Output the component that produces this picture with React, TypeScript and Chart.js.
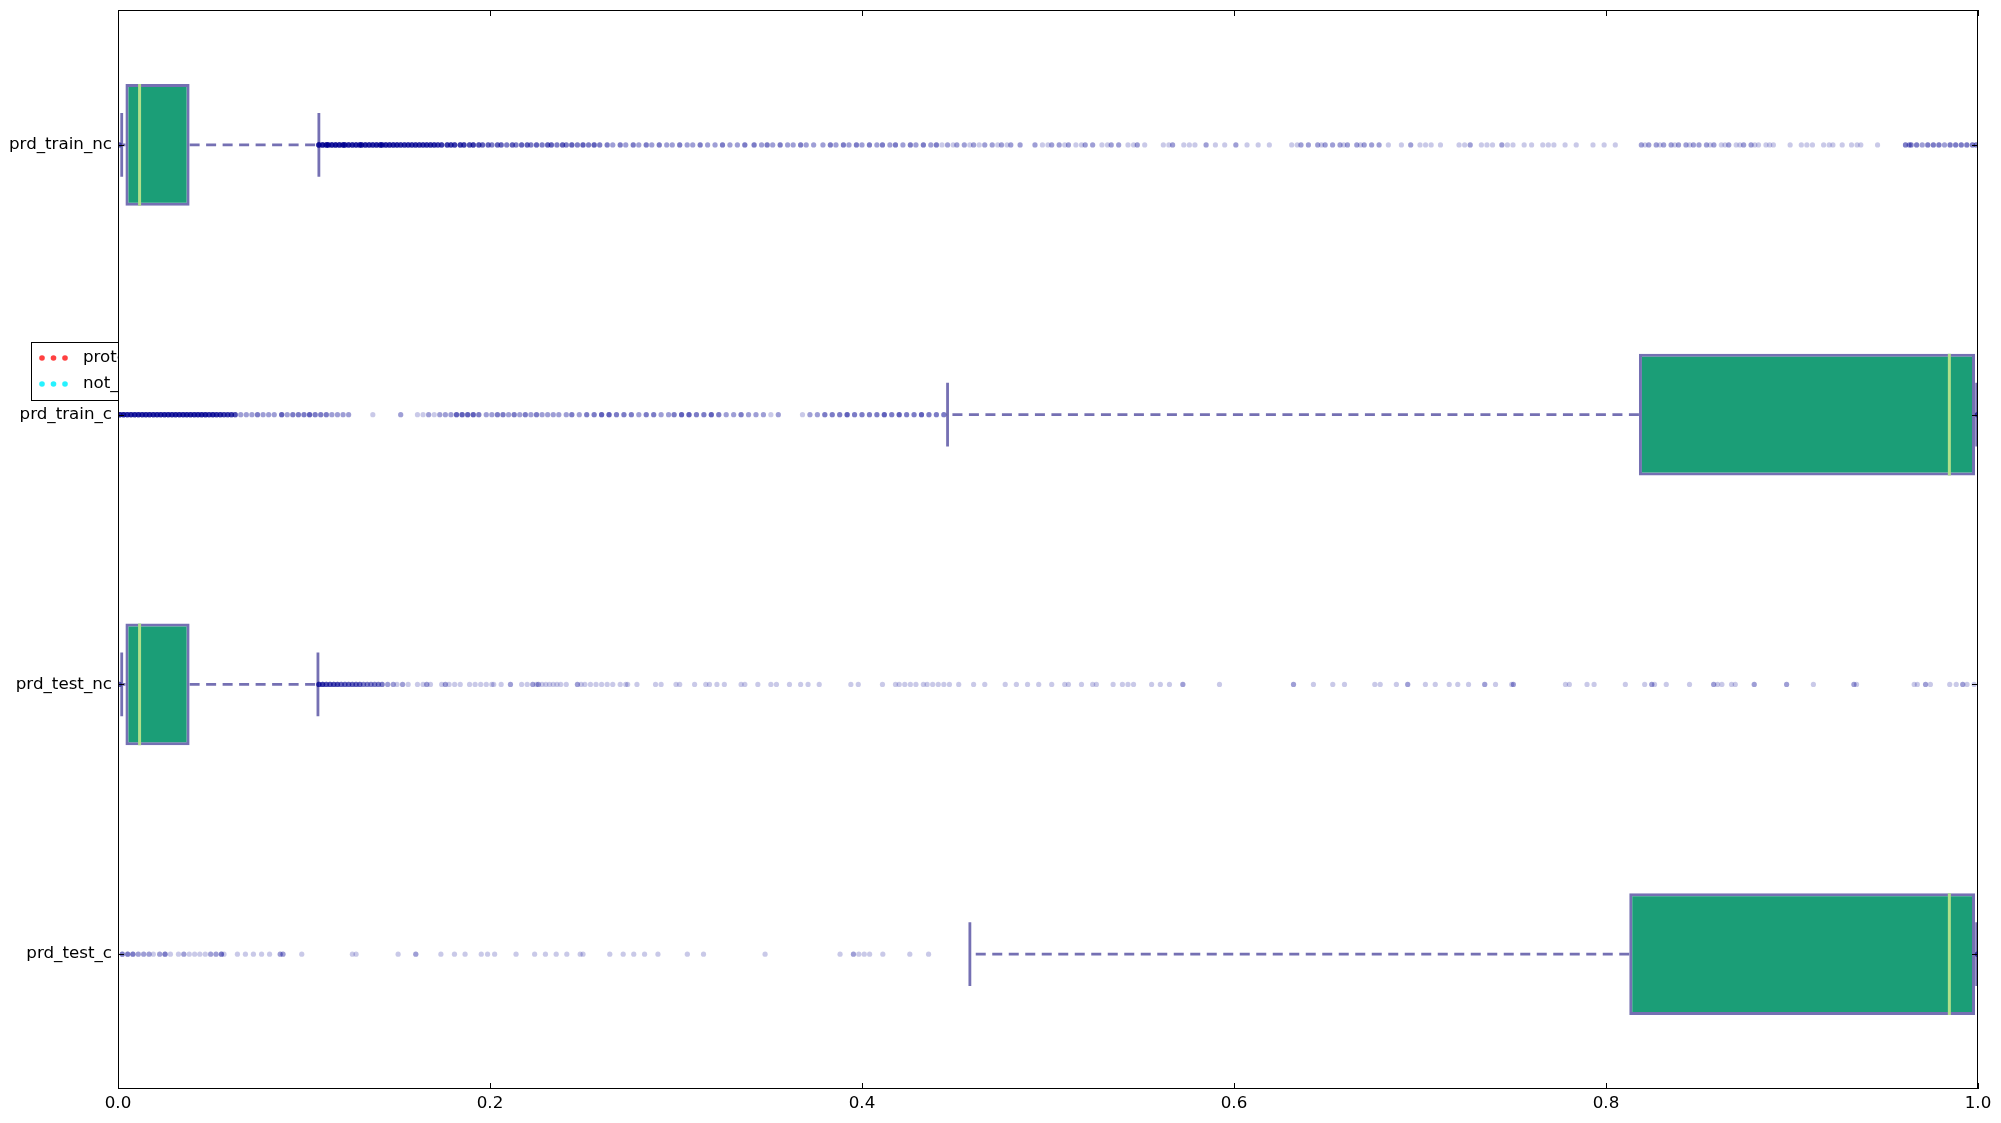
import React, { useEffect, useRef } from 'react';
import { Chart, registerables } from 'chart.js';

Chart.register(...registerables);

// ---------- data ----------
const CATEGORIES = ['prd_train_nc', 'prd_train_c', 'prd_test_nc', 'prd_test_c'];
const WHISKER_LOW = [0.002, 0.446, 0.002, 0.458];
const Q1 = [0.004, 0.8177, 0.004, 0.8125];
const MEDIAN = [0.0116, 0.9846, 0.0116, 0.9846];
const Q3 = [0.0385, 0.9984, 0.0385, 0.9984];
const WHISKER_HIGH = [0.108, 0.9993, 0.1075, 0.9993];
const X_TICKS = [0, 0.2, 0.4, 0.6, 0.8, 1.0];
const LEGEND_LABELS = ['protected', 'not_protected'];

// outliers as [value, how many points at that value]
type Tally = [number, number];
const TRAIN_NC_OUTLIERS: Tally[] = [
  [0.0006, 4],
  [0.108, 9], [0.110, 9], [0.112, 9], [0.113, 9], [0.115, 9], [0.117, 9], [0.119, 9], [0.121, 9], [0.122, 8], [0.124, 8],
  [0.126, 8], [0.128, 8], [0.130, 8], [0.131, 8], [0.133, 8], [0.135, 8], [0.137, 8], [0.139, 8], [0.141, 8], [0.142, 8],
  [0.144, 8], [0.146, 8], [0.148, 8], [0.150, 8], [0.152, 7], [0.154, 7], [0.156, 7], [0.158, 7], [0.160, 7], [0.162, 7],
  [0.164, 7], [0.166, 7], [0.168, 7], [0.170, 7], [0.172, 6], [0.174, 6], [0.177, 6], [0.179, 6], [0.181, 6], [0.184, 6],
  [0.186, 6], [0.189, 5], [0.191, 6], [0.194, 5],
  [0.196, 4], [0.199, 4], [0.201, 3], [0.204, 4], [0.206, 4], [0.209, 3], [0.212, 4], [0.214, 3], [0.217, 4], [0.220, 4],
  [0.222, 3], [0.225, 4], [0.228, 3], [0.231, 4], [0.233, 4], [0.236, 3], [0.239, 4], [0.241, 3], [0.244, 4], [0.247, 3],
  [0.250, 4], [0.253, 3], [0.256, 4], [0.259, 3],
  [0.263, 3], [0.266, 2], [0.270, 3], [0.273, 2], [0.277, 3], [0.280, 2], [0.284, 3], [0.287, 2], [0.291, 3], [0.295, 2],
  [0.298, 2], [0.302, 3], [0.306, 2], [0.309, 2], [0.313, 3], [0.317, 2], [0.321, 2], [0.325, 3], [0.329, 2], [0.333, 2],
  [0.337, 3],
  [0.342, 3], [0.346, 2], [0.349, 3], [0.352, 2], [0.356, 3], [0.360, 2], [0.363, 2], [0.367, 3], [0.370, 2], [0.374, 2],
  [0.379, 2], [0.383, 3], [0.386, 2], [0.390, 3], [0.393, 2], [0.397, 3], [0.400, 2], [0.404, 3], [0.408, 2], [0.411, 3],
  [0.415, 2], [0.418, 3], [0.422, 2], [0.426, 3], [0.429, 2], [0.433, 3], [0.437, 2], [0.440, 3],
  [0.443, 1], [0.446, 2], [0.449, 1], [0.451, 2], [0.455, 2], [0.458, 1], [0.460, 2], [0.463, 1], [0.466, 2], [0.470, 2],
  [0.473, 1], [0.475, 2], [0.478, 1], [0.480, 2], [0.485, 2],
  [0.493, 2], [0.497, 1], [0.500, 1], [0.502, 2], [0.506, 2], [0.509, 1], [0.511, 2], [0.515, 1], [0.518, 1], [0.520, 2],
  [0.524, 2], [0.529, 1], [0.532, 1], [0.534, 2], [0.538, 2], [0.543, 1], [0.546, 1], [0.548, 2], [0.552, 1],
  [0.562, 1], [0.565, 1], [0.567, 2], [0.573, 1], [0.576, 1], [0.579, 1], [0.585, 2], [0.590, 1], [0.595, 1], [0.601, 2],
  [0.607, 1], [0.613, 1], [0.619, 1],
  [0.631, 1], [0.634, 1], [0.636, 2], [0.640, 2], [0.645, 2], [0.647, 1], [0.649, 2], [0.653, 2], [0.657, 2], [0.659, 1],
  [0.661, 2], [0.666, 2], [0.668, 1], [0.670, 2], [0.674, 2], [0.678, 2], [0.683, 1],
  [0.690, 1], [0.695, 2], [0.700, 1], [0.703, 1], [0.706, 1], [0.711, 1],
  [0.721, 1], [0.724, 1], [0.727, 2], [0.733, 1], [0.736, 1], [0.739, 1], [0.744, 2], [0.747, 1], [0.750, 1], [0.756, 1],
  [0.760, 1],
  [0.766, 1], [0.769, 1], [0.772, 1], [0.778, 1], [0.784, 1],
  [0.793, 1], [0.799, 1], [0.805, 1],
  [0.819, 2], [0.821, 1], [0.823, 2], [0.827, 2], [0.829, 1], [0.831, 2], [0.835, 2], [0.837, 1], [0.839, 2], [0.843, 2],
  [0.845, 1], [0.847, 2], [0.850, 2],
  [0.854, 2], [0.856, 1], [0.858, 2], [0.862, 1], [0.864, 1], [0.866, 2], [0.870, 1], [0.872, 1], [0.874, 2], [0.878, 2],
  [0.880, 1], [0.882, 1], [0.886, 1], [0.888, 1], [0.890, 1],
  [0.899, 1], [0.905, 1], [0.908, 1], [0.911, 1], [0.917, 1], [0.920, 1], [0.922, 1], [0.927, 1], [0.932, 1], [0.935, 1],
  [0.937, 1], [0.946, 1],
  [0.961, 3], [0.963, 2], [0.964, 3], [0.967, 3], [0.970, 2], [0.973, 3], [0.976, 3], [0.979, 3], [0.982, 2], [0.985, 3],
  [0.988, 3], [0.991, 3], [0.994, 3], [0.997, 3], [0.999, 3],
];

const TRAIN_C_OUTLIERS: Tally[] = [
  [0.001, 9], [0.003, 9], [0.005, 8], [0.007, 8], [0.009, 8], [0.011, 8], [0.013, 8], [0.015, 8], [0.017, 8], [0.019, 8],
  [0.021, 8], [0.023, 8], [0.025, 8], [0.027, 8], [0.029, 8], [0.031, 8], [0.033, 8], [0.035, 8], [0.037, 8], [0.039, 8],
  [0.041, 8], [0.043, 8], [0.045, 8], [0.047, 8], [0.049, 7], [0.051, 8], [0.053, 7], [0.055, 7], [0.057, 6], [0.059, 6],
  [0.061, 6], [0.063, 5],
  [0.066, 2], [0.069, 2], [0.072, 2], [0.075, 3], [0.078, 2], [0.081, 2], [0.084, 2], [0.088, 4], [0.091, 2], [0.094, 3],
  [0.097, 3], [0.100, 3], [0.103, 4], [0.106, 3], [0.109, 3], [0.112, 3], [0.115, 2], [0.118, 2], [0.121, 2], [0.124, 2],
  [0.137, 1], [0.152, 2],
  [0.161, 1], [0.164, 1], [0.167, 2], [0.170, 1], [0.173, 2], [0.176, 2], [0.179, 2], [0.182, 4], [0.185, 4], [0.188, 4],
  [0.191, 4], [0.194, 3],
  [0.198, 2], [0.201, 2], [0.204, 3], [0.207, 3], [0.210, 2], [0.213, 3], [0.216, 2], [0.219, 3], [0.222, 2], [0.225, 3],
  [0.228, 2], [0.231, 2], [0.234, 2], [0.237, 2],
  [0.241, 2], [0.244, 3], [0.248, 2], [0.252, 3], [0.256, 3], [0.260, 4], [0.264, 4], [0.268, 3], [0.272, 3], [0.276, 3],
  [0.280, 2], [0.284, 3], [0.288, 3], [0.292, 2], [0.296, 2],
  [0.299, 3], [0.303, 4], [0.307, 4], [0.311, 3], [0.315, 3], [0.319, 4], [0.323, 3], [0.327, 2], [0.331, 2], [0.335, 3],
  [0.339, 2], [0.343, 2], [0.347, 2], [0.351, 1], [0.355, 2],
  [0.368, 1], [0.372, 2], [0.376, 2], [0.380, 3], [0.384, 3], [0.388, 3], [0.392, 4], [0.396, 3], [0.400, 3], [0.404, 3],
  [0.408, 3], [0.412, 4], [0.416, 3], [0.420, 4], [0.424, 3], [0.428, 3], [0.432, 4], [0.436, 3], [0.440, 3], [0.444, 3],
  [0.9997, 4],
];

const TEST_NC_OUTLIERS: Tally[] = [
  [0.0006, 4],
  [0.108, 6], [0.110, 6], [0.112, 5], [0.114, 5], [0.116, 5], [0.118, 5], [0.120, 4], [0.122, 4], [0.124, 4], [0.126, 4],
  [0.128, 4], [0.130, 4], [0.132, 3], [0.134, 3], [0.136, 3], [0.138, 3], [0.140, 3], [0.142, 3],
  [0.145, 2], [0.148, 2], [0.150, 1], [0.153, 2], [0.156, 1], [0.161, 1], [0.164, 1], [0.166, 2], [0.168, 1], [0.174, 1],
  [0.176, 2], [0.178, 1], [0.181, 1], [0.184, 1], [0.189, 1], [0.192, 1], [0.195, 1], [0.198, 1], [0.201, 1], [0.202, 1],
  [0.206, 1], [0.211, 2], [0.217, 1], [0.220, 1], [0.223, 2], [0.225, 1], [0.226, 2], [0.228, 1], [0.230, 1], [0.232, 1],
  [0.234, 1], [0.236, 1], [0.238, 1], [0.241, 1], [0.247, 2], [0.249, 1], [0.251, 1], [0.254, 1], [0.257, 1], [0.260, 1],
  [0.263, 1], [0.266, 1], [0.270, 1], [0.273, 1], [0.274, 1], [0.279, 1], [0.289, 1], [0.292, 1], [0.300, 1], [0.302, 1],
  [0.310, 1], [0.316, 1], [0.318, 1], [0.322, 1], [0.326, 1], [0.335, 1], [0.337, 1], [0.344, 1], [0.351, 1], [0.354, 1],
  [0.361, 1], [0.367, 1], [0.371, 1], [0.377, 1], [0.394, 1], [0.398, 1], [0.411, 1], [0.418, 1], [0.420, 1], [0.423, 1],
  [0.426, 1], [0.429, 1], [0.433, 1], [0.435, 1], [0.438, 1], [0.441, 1], [0.444, 1], [0.447, 1], [0.452, 1], [0.460, 1],
  [0.466, 1], [0.477, 1], [0.483, 1], [0.489, 1], [0.495, 1], [0.502, 1], [0.509, 1], [0.511, 1], [0.518, 1], [0.524, 1],
  [0.526, 1], [0.535, 1], [0.540, 1], [0.543, 1], [0.546, 1],
  [0.5557, 1], [0.5604, 1], [0.5653, 1], [0.5725, 2], [0.5922, 1], [0.6320, 2], [0.6427, 1], [0.6531, 1], [0.6594, 1],
  [0.6757, 1], [0.6786, 1], [0.6873, 1], [0.6934, 2], [0.7029, 1], [0.7082, 1], [0.7157, 1], [0.7203, 1], [0.7261, 1],
  [0.7348, 2], [0.7406, 1], [0.7493, 1], [0.7502, 2], [0.7782, 1], [0.7803, 1], [0.7898, 1], [0.7936, 1], [0.8104, 1],
  [0.8208, 1], [0.8246, 2], [0.8261, 1], [0.8324, 1], [0.8449, 1], [0.8579, 2], [0.8600, 1], [0.8623, 1], [0.8675, 1],
  [0.8695, 1], [0.8797, 2], [0.8971, 2], [0.9115, 1], [0.9333, 2], [0.9347, 1], [0.9657, 1], [0.9674, 1], [0.9718, 2],
  [0.9744, 1], [0.9848, 1], [0.9883, 1], [0.9918, 2], [0.9941, 1], [0.9979, 1],
];

const TEST_C_OUTLIERS: Tally[] = [
  [0.0023, 3], [0.0052, 3], [0.0080, 3], [0.0109, 2], [0.0138, 2], [0.0167, 2], [0.0190, 1], [0.0224, 2], [0.0253, 3],
  [0.0282, 1], [0.0325, 1], [0.0354, 2], [0.0383, 1], [0.0412, 1], [0.0440, 1], [0.0469, 1], [0.0498, 2], [0.0527, 2],
  [0.0556, 3], [0.0570, 1], [0.0642, 1], [0.0685, 1], [0.0728, 1], [0.0772, 1], [0.0815, 1], [0.0872, 2], [0.0887, 2],
  [0.0988, 1], [0.1260, 1], [0.1280, 1], [0.1506, 1], [0.1601, 2], [0.1736, 1], [0.1809, 1], [0.1866, 1], [0.1953, 1],
  [0.1987, 1], [0.2025, 1], [0.2140, 1], [0.2240, 1], [0.2298, 1], [0.2356, 1], [0.2413, 1], [0.2485, 1], [0.2500, 1],
  [0.2644, 1], [0.2716, 1], [0.2773, 1], [0.2831, 1], [0.2903, 1], [0.3061, 1], [0.3148, 1], [0.3479, 1], [0.3882, 1],
  [0.3954, 2], [0.3983, 1], [0.4012, 1], [0.4041, 1], [0.4112, 1], [0.4257, 1], [0.4358, 1],
  [0.9997, 4],
];

const OUTLIERS = [TRAIN_NC_OUTLIERS, TRAIN_C_OUTLIERS, TEST_NC_OUTLIERS, TEST_C_OUTLIERS];

// ---------- style ----------
const BOX_FILL = '#1b9e77';
const BOX_EDGE = '#7570b3';
const MEDIAN_COLOR = '#b2df8a';
const FLIER_COLOR = 'rgba(0, 0, 145, 0.21)';
const LEGEND_COLORS = ['rgba(255, 30, 30, 0.85)', 'rgba(0, 240, 255, 0.85)'];
const FONT = 'DejaVu Sans';
const BOX_HALF = 0.226;
const CAP_HALF = 0.118;

const framePlugin = {
  id: 'frameAndLegend',
  beforeDraw(chart: any) {
    const { ctx, chartArea: a } = chart;
    ctx.save();
    // legend sitting beneath the axes
    ctx.fillStyle = '#fff';
    ctx.fillRect(31, 342, 200, 58);
    ctx.strokeStyle = '#000';
    ctx.lineWidth = 1;
    ctx.strokeRect(31.5, 342.5, 200, 58);
    LEGEND_LABELS.forEach((label, k) => {
      const y = 358 + k * 26;
      ctx.fillStyle = LEGEND_COLORS[k];
      [42, 53.5, 65].forEach((x) => {
        ctx.beginPath();
        ctx.arc(x, y, 2.8, 0, Math.PI * 2);
        ctx.fill();
      });
      ctx.fillStyle = '#000';
      ctx.font = `16.7px "${FONT}"`;
      ctx.textBaseline = 'middle';
      ctx.fillText(label, 83, y);
    });
    ctx.fillStyle = '#fff';
    ctx.fillRect(a.left, a.top, a.right - a.left, a.bottom - a.top);
    ctx.restore();
  },
  afterDraw(chart: any) {
    const { ctx, chartArea: a, scales } = chart;
    ctx.save();
    ctx.strokeStyle = '#000';
    ctx.lineWidth = 1;
    ctx.strokeRect(a.left + 0.5, a.top + 0.5, a.right - a.left - 1, a.bottom - a.top - 1);
    ctx.beginPath();
    X_TICKS.forEach((v) => {
      const px = Math.round(scales.x.getPixelForValue(v)) + 0.5;
      ctx.moveTo(px, a.bottom);
      ctx.lineTo(px, a.bottom - 6);
      ctx.moveTo(px, a.top);
      ctx.lineTo(px, a.top + 6);
    });
    CATEGORIES.forEach((_, i) => {
      const py = Math.round(scales.y.getPixelForValue(i)) + 0.5;
      ctx.moveTo(a.left, py);
      ctx.lineTo(a.left + 6, py);
      ctx.moveTo(a.right, py);
      ctx.lineTo(a.right - 6, py);
    });
    ctx.stroke();
    ctx.restore();
  },
};

function segment(points: { x: number; y: number }[], color: string, width: number, dash: number[], order: number) {
  return {
    type: 'scatter',
    data: points,
    showLine: true,
    borderColor: color,
    borderWidth: width,
    borderDash: dash,
    borderCapStyle: 'butt',
    pointRadius: 0,
    pointHoverRadius: 0,
    fill: false,
    order,
  };
}

export default function App() {
  const canvasRef = useRef<HTMLCanvasElement | null>(null);

  useEffect(() => {
    if (!canvasRef.current) return;
    Chart.defaults.font.family = FONT;
    Chart.defaults.font.size = 16.7;
    Chart.defaults.color = '#000';

    const datasets: any[] = [];
    datasets.push({
      type: 'bar',
      indexAxis: 'y',
      data: CATEGORIES.map((_, i) => ({ x: [Q1[i], Q3[i]], y: i })),
      backgroundColor: BOX_FILL,
      borderColor: BOX_EDGE,
      borderWidth: 3,
      borderSkipped: false,
      barPercentage: 2 * BOX_HALF,
      categoryPercentage: 1,
      order: 10,
    });
    CATEGORIES.forEach((_, i) => {
      datasets.push(segment([{ x: Q3[i], y: i }, { x: WHISKER_HIGH[i], y: i }], BOX_EDGE, 2.7, [10, 6.5], 8));
      datasets.push(segment([{ x: Q1[i], y: i }, { x: WHISKER_LOW[i], y: i }], BOX_EDGE, 2.7, [10, 6.5], 8));
      datasets.push(segment([{ x: WHISKER_HIGH[i], y: i - CAP_HALF }, { x: WHISKER_HIGH[i], y: i + CAP_HALF }], BOX_EDGE, 2.8, [], 7));
      datasets.push(segment([{ x: WHISKER_LOW[i], y: i - CAP_HALF }, { x: WHISKER_LOW[i], y: i + CAP_HALF }], BOX_EDGE, 2.8, [], 7));
      datasets.push(segment([{ x: MEDIAN[i], y: i - BOX_HALF }, { x: MEDIAN[i], y: i + BOX_HALF }], MEDIAN_COLOR, 3, [], 6));
      const pts: { x: number; y: number }[] = [];
      OUTLIERS[i].forEach(([v, n]) => {
        for (let k = 0; k < n; k++) pts.push({ x: v, y: i });
      });
      datasets.push({
        type: 'scatter',
        data: pts,
        pointRadius: 2.6,
        pointHoverRadius: 2.6,
        pointBorderWidth: 0,
        pointBackgroundColor: FLIER_COLOR,
        pointBorderColor: 'rgba(0,0,0,0)',
        showLine: false,
        order: 1,
      });
    });

    const chart = new Chart(canvasRef.current, {
      type: 'scatter',
      data: { datasets },
      options: {
        animation: false,
        responsive: false,
        devicePixelRatio: 1,
        events: [],
        layout: { padding: { top: 10, right: 23, left: 0, bottom: 0 } },
        plugins: { legend: { display: false }, tooltip: { enabled: false } },
        scales: {
          x: {
            type: 'linear',
            min: 0,
            max: 1,
            offset: false,
            grid: { display: false, drawTicks: false, offset: false },
            border: { display: false },
            ticks: {
              stepSize: 0.2,
              padding: 5,
              maxRotation: 0,
              callback: (v: any) => Number(v).toFixed(1),
            },
            afterFit: (s: any) => {
              s.height = 34;
              s.paddingLeft = 0;
              s.paddingRight = 0;
            },
          },
          y: {
            type: 'linear',
            min: -0.5,
            max: 3.5,
            reverse: true,
            offset: false,
            grid: { display: false, drawTicks: false, offset: false },
            border: { display: false },
            afterBuildTicks: (s: any) => {
              s.ticks = CATEGORIES.map((_, i) => ({ value: i }));
            },
            ticks: {
              padding: 6,
              autoSkip: false,
              callback: (v: any) => CATEGORIES[Math.round(Number(v))] ?? '',
            },
            afterFit: (s: any) => {
              s.width = 118;
              s.paddingTop = 0;
              s.paddingBottom = 0;
            },
          },
        },
      } as any,
      plugins: [framePlugin],
    } as any);

    return () => chart.destroy();
  }, []);

  return (
    <div style={{ position: 'absolute', left: 0, top: 0, width: 2001, height: 1123, background: '#fff' }}>
      <canvas ref={canvasRef} width={2001} height={1123} style={{ display: 'block', width: 2001, height: 1123 }} />
    </div>
  );
}
